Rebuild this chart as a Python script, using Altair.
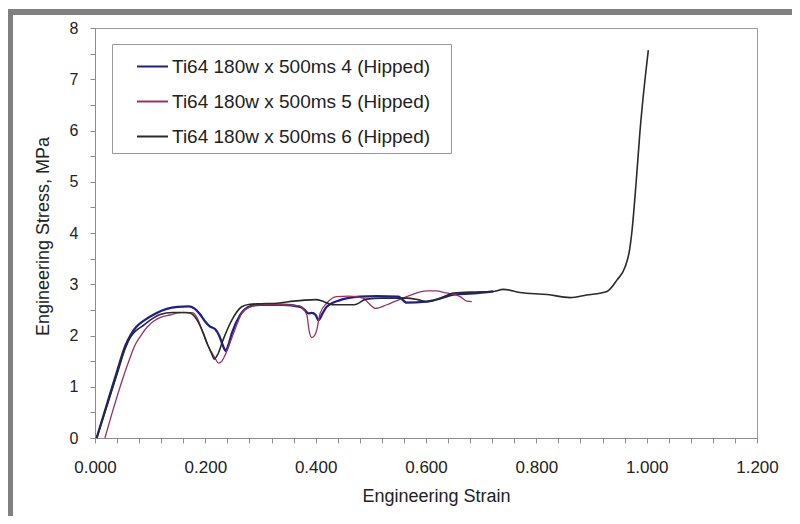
import altair as alt
import pandas as pd

# ---------------- data ----------------
S4 = "Ti64 180w x 500ms 4 (Hipped)"
S5 = "Ti64 180w x 500ms 5 (Hipped)"
S6 = "Ti64 180w x 500ms 6 (Hipped)"
series_names = [S4, S5, S6]
series_colors = ["#1f1f8c", "#973264", "#2a2a2a"]

s4_strain = [0.003, 0.02, 0.04, 0.055, 0.065, 0.075, 0.09, 0.11, 0.13, 0.15, 0.17, 0.18, 0.19,
             0.20, 0.208, 0.218, 0.225, 0.232, 0.237, 0.242, 0.248, 0.263, 0.281, 0.30, 0.34,
             0.372, 0.38, 0.387, 0.393, 0.40, 0.405, 0.412, 0.42, 0.444, 0.48, 0.51, 0.55,
             0.565, 0.60, 0.625, 0.65, 0.686, 0.722]
s4_stress = [0.0, 0.6, 1.3, 1.8, 2.02, 2.17, 2.3, 2.43, 2.52, 2.56, 2.57, 2.53, 2.42,
             2.27, 2.18, 2.12, 2.0, 1.8, 1.70, 1.82, 2.04, 2.40, 2.57, 2.60, 2.60,
             2.56, 2.5, 2.43, 2.44, 2.4, 2.30, 2.42, 2.56, 2.69, 2.76, 2.77, 2.76,
             2.64, 2.66, 2.72, 2.80, 2.82, 2.86]

s5_strain = [0.018, 0.03, 0.047, 0.063, 0.072, 0.082, 0.095, 0.106, 0.12, 0.136, 0.15, 0.165,
             0.178, 0.187, 0.195, 0.202, 0.211, 0.218, 0.224, 0.23, 0.236, 0.251, 0.266, 0.281,
             0.30, 0.34, 0.37, 0.384, 0.388, 0.393, 0.398, 0.402, 0.408, 0.42, 0.438, 0.46,
             0.486, 0.497, 0.508, 0.529, 0.565, 0.601, 0.617, 0.637, 0.662, 0.674, 0.683]
s5_stress = [0.0, 0.45, 1.05, 1.55, 1.8, 1.98, 2.17, 2.28, 2.36, 2.40, 2.44, 2.45,
             2.44, 2.3, 2.07, 1.87, 1.68, 1.55, 1.46, 1.5, 1.62, 2.04, 2.43, 2.56,
             2.60, 2.60, 2.58, 2.40, 2.1, 1.96, 2.0, 2.11, 2.43, 2.63, 2.76, 2.77,
             2.73, 2.62, 2.53, 2.6, 2.76, 2.87, 2.87, 2.83, 2.76, 2.67, 2.66]

s6_strain = [0.003, 0.02, 0.04, 0.055, 0.065, 0.075, 0.088, 0.10, 0.118, 0.14, 0.16, 0.172,
             0.184, 0.195, 0.205, 0.212, 0.216, 0.222, 0.232, 0.248, 0.266, 0.281, 0.30, 0.33,
             0.36, 0.38, 0.40, 0.415, 0.43, 0.47, 0.492, 0.52, 0.565, 0.585, 0.601, 0.625,
             0.65, 0.69, 0.722, 0.74, 0.77, 0.82, 0.861, 0.891, 0.928, 0.946, 0.961, 0.969,
             0.973, 0.981, 0.988, 0.997, 1.003]
s6_stress = [0.0, 0.57, 1.25, 1.75, 1.98, 2.1, 2.2, 2.3, 2.41, 2.45, 2.45, 2.44,
             2.32, 2.08, 1.8, 1.63, 1.54, 1.62, 1.91, 2.30, 2.56, 2.61, 2.62, 2.63,
             2.67, 2.69, 2.70, 2.66, 2.60, 2.60, 2.71, 2.73, 2.73, 2.70, 2.66, 2.72,
             2.83, 2.85, 2.86, 2.90, 2.84, 2.80, 2.74, 2.79, 2.86, 3.08, 3.34, 3.67,
             4.0, 5.0, 6.0, 7.0, 7.57]

x_ticks = [round(i * 0.04, 2) for i in range(31)]
y_ticks = [i * 0.5 for i in range(17)]

rows = []
for name, xs, ys in [(S4, s4_strain, s4_stress), (S5, s5_strain, s5_stress), (S6, s6_strain, s6_stress)]:
    for xv, yv in zip(xs, ys):
        rows.append({"series": name, "strain": xv, "stress": yv})
df = pd.DataFrame(rows)

FONT = "Liberation Sans"

x_enc = alt.X(
    "strain:Q",
    scale=alt.Scale(domain=[0, 1.2], nice=False, zero=False),
    axis=alt.Axis(
        title="Engineering Strain",
        values=x_ticks,
        labelExpr="abs(datum.value*5 - round(datum.value*5)) < 0.000001 ? format(datum.value, '.3f') : ''",
        labelOverlap=False,
        labelFlush=False,
        grid=False,
        tickSize=5,
        labelPadding=16,
        labelFontSize=17,
        labelFont=FONT,
        labelColor="#222222",
        titleFont=FONT,
        titleFontSize=18,
        titleFontWeight="normal",
        titleColor="#222222",
        titleX=341,
        titleY=63,
        titleBaseline="alphabetic",
        domainColor="#8c8c8c",
        tickColor="#8c8c8c",
    ),
)
y_enc = alt.Y(
    "stress:Q",
    scale=alt.Scale(domain=[0, 8], nice=False),
    axis=alt.Axis(
        title="Engineering Stress, MPa",
        values=y_ticks,
        labelExpr="datum.value == round(datum.value) ? format(datum.value, 'd') : ''",
        labelOverlap=False,
        labelFlush=False,
        grid=False,
        tickSize=5,
        labelPadding=12,
        labelFontSize=16,
        labelFont=FONT,
        labelColor="#222222",
        titleFont=FONT,
        titleFontSize=18,
        titleFontWeight="normal",
        titleColor="#222222",
        titleAngle=270,
        titleX=-47,
        titleY=208,
        titleBaseline="alphabetic",
        domainColor="#8c8c8c",
        tickColor="#8c8c8c",
    ),
)
color_enc = alt.Color(
    "series:N",
    scale=alt.Scale(domain=series_names, range=series_colors),
    legend=alt.Legend(
        title=None,
        orient="none",
        legendX=17,
        legendY=16,
        symbolType="stroke",
        symbolSize=961,
        symbolStrokeWidth=2,
        symbolOffset=18,
        labelOffset=3,
        labelFontSize=19,
        labelFont=FONT,
        labelColor="#222222",
        labelLimit=500,
        labelExpr="datum.label + '\u2800'",
        padding=6,
        rowPadding=8,
        strokeColor="#999999",
        fillColor="white",
    ),
)

base = alt.Chart(df)
widths = {S4: 2.3, S5: 1.3, S6: 1.6}
lines = []
for name in series_names:
    lines.append(
        base.transform_filter(alt.datum.series == name)
        .mark_line(strokeWidth=widths[name], interpolate="monotone")
        .encode(x=x_enc, y=y_enc, color=color_enc, order="strain:Q")
    )

frame_df = pd.DataFrame({"k": [0]})
frame_top = alt.Chart(frame_df).mark_rect(color="#808080").encode(
    x=alt.value(-87), x2=alt.value(697), y=alt.value(-19), y2=alt.value(-13)
)
frame_left = alt.Chart(frame_df).mark_rect(color="#808080").encode(
    x=alt.value(-87), x2=alt.value(-82), y=alt.value(-19), y2=alt.value(488)
)

chart = (
    alt.layer(frame_top, frame_left, *lines)
    .properties(
        width=662,
        height=410,
        autosize=alt.AutoSizeParams(type="none"),
        padding={"left": 87, "top": 20, "right": 35, "bottom": 78},
        background="white",
    )
    .configure_view(stroke="#9a9a9a", strokeWidth=1)
)

chart.save("out.html", embed_options={"renderer": "svg", "actions": False})
